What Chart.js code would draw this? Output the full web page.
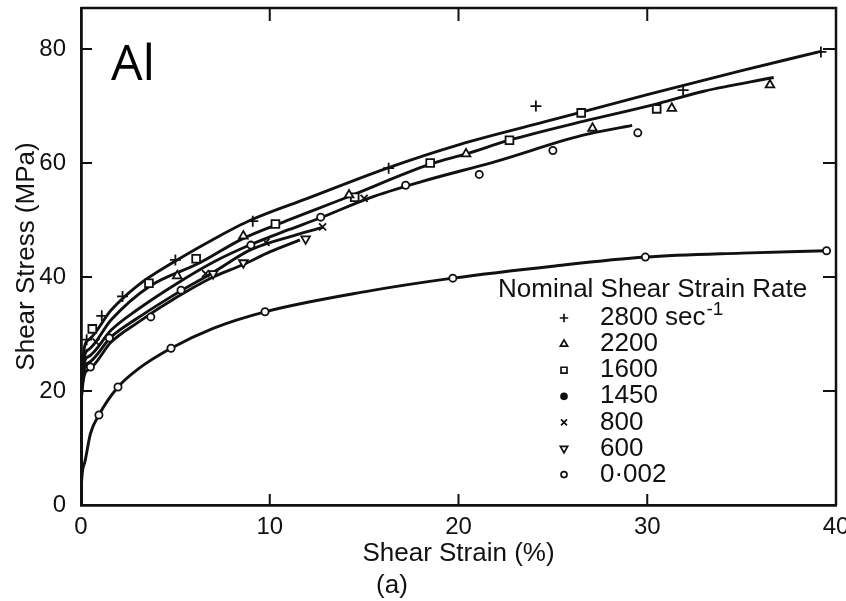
<!DOCTYPE html>
<html><head><meta charset="utf-8">
<script src="https://cdn.jsdelivr.net/npm/chart.js@4.4.1/dist/chart.umd.min.js"></script>
<style>html,body{margin:0;padding:0;background:#fff}</style>
</head><body>
<canvas id="c" width="846" height="601"></canvas>
<script>
// ---- axis ticks ----
const xTicks = [0, 10, 20, 30, 40];
const yTicks = [0, 20, 40, 60, 80];

// ---- legend labels (nominal shear strain rate) ----
const rateLabels = ['2800', '2200', '1600', '1450', '800', '600', '0·002'];
const rateUnit = 'sec';
const rateUnitExp = '-1';

// ---- measured points (shear strain %, shear stress MPa) ----
const r2800X = [0.3, 1.1, 2.2, 5.0, 9.1, 16.3, 24.1, 31.9, 39.2];
const r2800Y = [29.0, 33.2, 36.6, 43.0, 49.8, 59.1, 70.0, 72.8, 79.5];
const r2200X = [5.1, 8.6, 14.2, 20.4, 27.1, 31.3, 36.5];
const r2200Y = [40.2, 47.2, 54.4, 61.6, 66.1, 69.6, 73.7];
const r1600X = [0.6, 3.6, 6.1, 10.3, 14.5, 18.5, 22.7, 26.5, 30.5];
const r1600Y = [30.9, 38.9, 43.2, 49.3, 54.0, 60.0, 64.0, 68.8, 69.5];
const r1450X = [0.5, 1.5, 3.7, 5.3, 9.0, 12.7, 17.2, 21.1, 25.0, 29.5];
const r1450Y = [24.2, 29.3, 33.0, 37.7, 45.6, 50.5, 56.1, 58.0, 62.2, 65.3];
const r800X = [0.8, 6.6, 9.8, 12.8, 15.0];
const r800Y = [28.6, 40.6, 46.1, 48.8, 53.8];
const r600X = [7.0, 8.6, 11.9];
const r600Y = [40.6, 42.5, 46.7];
const r0002X = [0.95, 1.96, 4.77, 9.75, 19.7, 29.9, 39.5];
const r0002Y = [15.8, 20.7, 27.5, 33.9, 39.8, 43.5, 44.6];

// ---- drawn fit curves, read along the lines of the figure ----
const fitAX = [0, 0.03, 0.37, 1.6, 3, 5, 7, 9, 12, 16.3, 20, 25, 30, 35, 39.2];
const fitAY = [0, 22, 28.9, 34.2, 38.5, 42.8, 46.6, 50.0, 53.8, 59.2, 63.2, 67.6, 72.0, 76.2, 79.6];
const fitBX = [0, 0.03, 0.37, 1.6, 3.6, 6.3, 8.5, 10.3, 14.1, 18.5, 20.4, 22.7, 26.6, 30.3, 33, 36.7];
const fitBY = [0, 21, 27.2, 32.5, 38.3, 42.5, 46.6, 49.1, 54.0, 59.8, 61.6, 64.0, 67.3, 70.2, 72.6, 75.0];
const fitCX = [0, 0.03, 0.37, 1.6, 3, 5, 7, 9, 11, 12.7, 15.3, 18, 22, 26.5, 29.2];
const fitCY = [0, 20.5, 26.0, 30.7, 34.3, 38.7, 42.6, 45.7, 48.3, 50.4, 53.9, 56.7, 60.3, 64.8, 66.6];
const fitDX = [0, 0.03, 0.37, 1.6, 3, 5, 7, 9, 11.4, 12.8];
const fitDY = [0, 19.5, 24.9, 29.5, 32.8, 37.0, 40.8, 44.8, 47.4, 48.7];
const fitEX = [0, 0.03, 0.37, 1.6, 3, 5, 7, 8.6, 10, 11.6];
const fitEY = [0, 19, 23.7, 28.6, 32.0, 36.3, 40.0, 42.2, 44.4, 46.5];
const fitFX = [0, 0.03, 0.2, 0.5, 0.95, 1.96, 3, 4.77, 7, 9.75, 15, 19.7, 25, 29.9, 35, 39.5];
const fitFY = [0, 4, 7.5, 12.5, 15.8, 20.7, 23.8, 27.5, 31.0, 33.9, 37.4, 39.8, 41.9, 43.5, 44.2, 44.6];

const INK = '#111';
const FONT = 'Liberation Sans, Arial, sans-serif';

function pts(xs, ys) { return xs.map((x, i) => ({x: x, y: ys[i]})); }

const markerStyles = [
  {style: 'cross', rot: 0, r: 5.5, fill: INK, legendFill: INK},
  {style: 'triangle', rot: 0, r: 5, fill: '#fff', legendFill: '#fff'},
  {style: 'rect', rot: 0, r: 5.5, fill: '#fff', legendFill: '#fff'},
  {style: 'circle', rot: 0, r: 3.6, fill: '#fff', legendFill: INK},
  {style: 'crossRot', rot: 0, r: 5, fill: INK, legendFill: INK},
  {style: 'triangle', rot: 180, r: 5, fill: '#fff', legendFill: '#fff'},
  {style: 'circle', rot: 0, r: 3.6, fill: '#fff', legendFill: '#fff'}
];
const markerData = [
  pts(r2800X, r2800Y), pts(r2200X, r2200Y), pts(r1600X, r1600Y), pts(r1450X, r1450Y),
  pts(r800X, r800Y), pts(r600X, r600Y), pts(r0002X, r0002Y)
];
const fitData = [
  pts(fitAX, fitAY), pts(fitBX, fitBY), pts(fitCX, fitCY),
  pts(fitDX, fitDY), pts(fitEX, fitEY), pts(fitFX, fitFY)
];

const datasets = [];
fitData.forEach((d, i) => {
  datasets.push({
    label: 'fit' + i, data: d, showLine: true, borderColor: INK, borderWidth: 2.9,
    pointRadius: 0, cubicInterpolationMode: 'monotone', fill: false, order: 2
  });
});
markerData.forEach((d, i) => {
  const m = markerStyles[i];
  datasets.push({
    label: rateLabels[i], data: d, showLine: false, pointStyle: m.style, rotation: m.rot,
    pointRadius: m.r, pointBorderWidth: 1.8, pointBorderColor: INK,
    pointBackgroundColor: m.fill, order: 1
  });
});

function drawMarker(ctx, m, x, y, r) {
  ctx.save();
  ctx.strokeStyle = INK; ctx.fillStyle = m.legendFill; ctx.lineWidth = 1.7;
  if (Chart.helpers && Chart.helpers.drawPoint) {
    Chart.helpers.drawPoint(ctx, {pointStyle: m.style, rotation: m.rot, radius: r, borderWidth: 1.7}, x, y);
  }
  ctx.restore();
}

const framePlugin = {
  id: 'frame',
  afterDraw(chart) {
    const {ctx, chartArea: a, scales} = chart;
    ctx.save();
    ctx.strokeStyle = INK; ctx.lineWidth = 2.5;
    ctx.beginPath();
    ctx.moveTo(a.left, a.top); ctx.lineTo(a.right, a.top); ctx.lineTo(a.right, a.bottom);
    ctx.stroke();
    // inward tick marks on all four sides
    ctx.lineWidth = 2;
    const tl = 11;
    xTicks.forEach(v => {
      if (v === xTicks[0] || v === xTicks[xTicks.length - 1]) return;
      const px = scales.x.getPixelForValue(v);
      ctx.beginPath();
      ctx.moveTo(px, a.bottom); ctx.lineTo(px, a.bottom - tl);
      ctx.moveTo(px, a.top); ctx.lineTo(px, a.top + tl + 2);
      ctx.stroke();
    });
    yTicks.forEach(v => {
      if (v === yTicks[0]) return;
      const py = scales.y.getPixelForValue(v);
      ctx.beginPath();
      ctx.moveTo(a.left, py); ctx.lineTo(a.left + tl, py);
      ctx.moveTo(a.right, py); ctx.lineTo(a.right - tl - 2, py);
      ctx.stroke();
    });
    // material label
    ctx.fillStyle = '#000';
    ctx.font = '50px "Open Sans", "Noto Sans", sans-serif';
    ctx.textAlign = 'left'; ctx.textBaseline = 'alphabetic';
    ctx.fillText('Al', 111, 80);
    // figure part label
    ctx.fillStyle = INK;
    ctx.font = '26px ' + FONT;
    ctx.textAlign = 'center'; ctx.textBaseline = 'middle';
    ctx.fillText('(a)', 392, 586);
    // legend
    ctx.textAlign = 'left';
    ctx.fillText('Nominal Shear Strain Rate', 498, 290);
    rateLabels.forEach((lab, i) => {
      const y = 318 + i * 26.1;
      const m = markerStyles[i];
      drawMarker(ctx, m, 564, y, m.style === 'circle' ? 3 : 4.2);
      ctx.fillStyle = INK;
      ctx.font = '26px ' + FONT;
      ctx.textBaseline = 'middle';
      ctx.fillText(lab, 600, y);
      if (i === 0) {
        const w = ctx.measureText(lab + ' ').width;
        ctx.fillText(rateUnit, 600 + w, y);
        const w2 = ctx.measureText(rateUnit).width;
        ctx.font = '19px ' + FONT;
        ctx.fillText(rateUnitExp, 600 + w + w2 + 1, y - 8);
      }
    });
    ctx.restore();
  }
};

new Chart(document.getElementById('c'), {
  type: 'scatter',
  data: {datasets: datasets},
  plugins: [framePlugin],
  options: {
    responsive: false, animation: false, devicePixelRatio: 1,
    layout: {padding: {top: 8, right: 10, bottom: 0, left: 0}},
    plugins: {legend: {display: false}, tooltip: {enabled: false}},
    scales: {
      x: {
        type: 'linear', min: 0, max: 40,
        afterBuildTicks: s => { s.ticks = xTicks.map(v => ({value: v})); },
        afterFit: s => { s.height = 96; s.paddingLeft = 0; s.paddingRight = 0; },
        grid: {display: false, drawTicks: false},
        border: {display: true, color: INK, width: 2.8},
        ticks: {color: INK, font: {family: FONT, size: 24}, padding: 8, maxRotation: 0, autoSkip: false},
        title: {display: true, text: 'Shear Strain (%)', color: INK, font: {family: FONT, size: 26}, padding: {top: 0, bottom: 32}}
      },
      y: {
        type: 'linear', min: 0, max: 87.2,
        afterBuildTicks: s => { s.ticks = yTicks.map(v => ({value: v})); },
        afterFit: s => { s.width = 81; s.paddingTop = 0; s.paddingBottom = 0; },
        grid: {display: false, drawTicks: false},
        border: {display: true, color: INK, width: 2.8},
        ticks: {color: INK, font: {family: FONT, size: 24}, padding: 15, autoSkip: false},
        title: {display: true, text: 'Shear Stress (MPa)', color: INK, font: {family: FONT, size: 26}, padding: {top: 11, bottom: 0}}
      }
    }
  }
});
</script>
</body></html>
